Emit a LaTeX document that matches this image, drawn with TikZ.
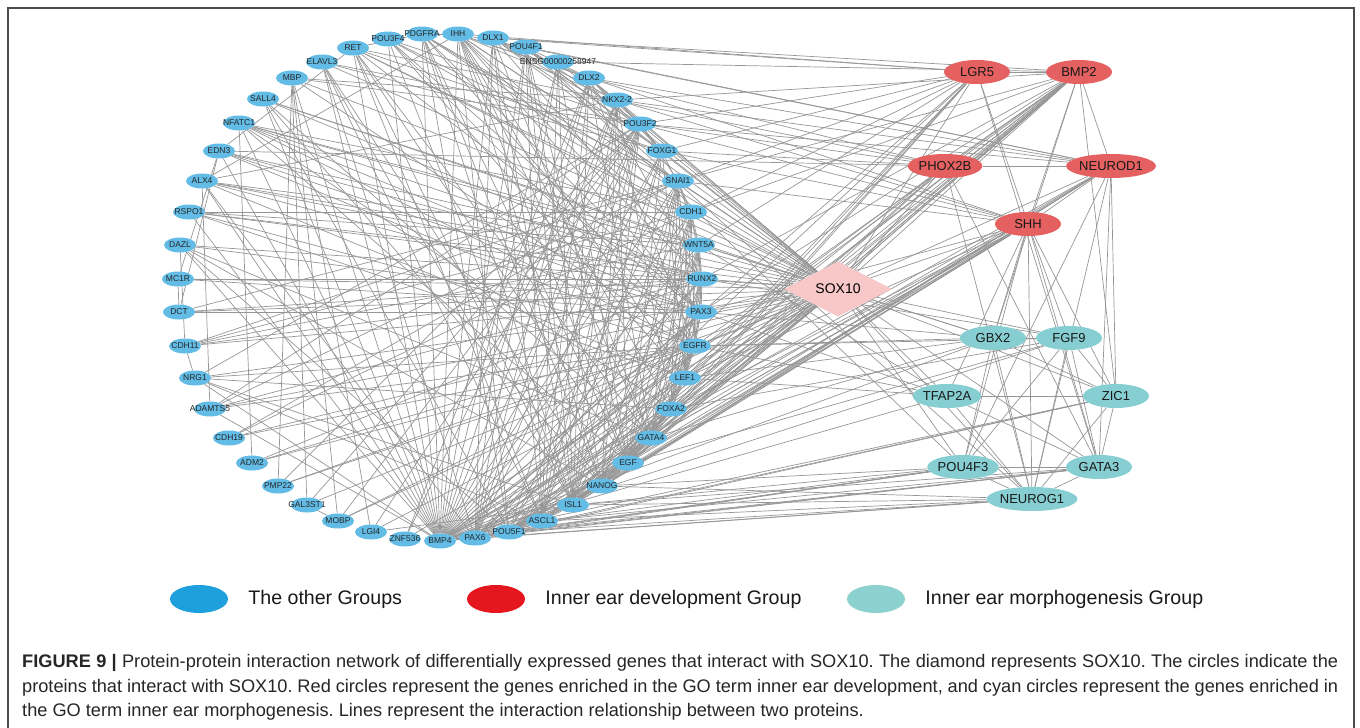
\documentclass[tikz,border=0pt]{standalone}
\usepackage{fontspec}
\setmainfont{Liberation Sans}
\usepackage{xcolor}
\usetikzlibrary{shapes.geometric,positioning}
\definecolor{otherblue}{RGB}{98,188,230}
\definecolor{devred}{RGB}{229,96,96}
\definecolor{morphcyan}{RGB}{134,206,210}
\definecolor{soxpink}{RGB}{248,200,200}
\definecolor{edgegray}{RGB}{150,150,150}
\definecolor{legblue}{RGB}{30,160,220}
\definecolor{legred}{RGB}{230,22,30}
\definecolor{legcyan}{RGB}{140,208,208}
\pgfdeclarelayer{edges}
\pgfsetlayers{edges,main}
\frenchspacing
\tikzset{
  othernode/.style={
    ellipse,
    fill=otherblue,
    minimum width=32pt,
    minimum height=15pt,
    inner sep=0pt,
    text=black!85,
    font=\fontsize{8.5}{8.5}\selectfont
  },
  groupnode/.style={
    ellipse,
    minimum width=66pt,
    minimum height=24pt,
    inner sep=0pt,
    text=black!90,
    font=\fontsize{13}{13}\selectfont
  },
  hubnode/.style={
    diamond,
    fill=soxpink,
    minimum width=108pt,
    minimum height=46pt,
    inner sep=0pt,
    font=\fontsize{14}{14}\selectfont
  },
  ppiedge/.style={
    draw=edgegray,
    line width=0.7pt
  },
  legswatch/.style={
    ellipse,
    minimum width=58pt,
    minimum height=28pt,
    inner sep=0pt
  },
  legtext/.style={
    anchor=west,
    inner sep=0pt,
    text=black!90,
    font=\fontsize{19.6}{19.6}\selectfont
  },
  captext/.style={
    anchor=base west,
    inner sep=0pt,
    font=\fontsize{18.2}{18.2}\selectfont,
    text=black!85
  }
}

\begin{document}
\begin{tikzpicture}[x=1pt,y=-1pt]
\useasboundingbox (0,0) rectangle (1360,728);
\draw[line width=1.4pt, black!70] (8,740) -- (8,8) -- (1354,8) -- (1354,740);

% circle of the other genes
\foreach \gname/\px/\py in {IHH/458/34, DLX1/493/38, POU4F1/526/47, DLX2/589/78, NKX2-2/617/100, POU3F2/640/124, FOXG1/662/151, SNAI1/678/181, CDH1/691/212, WNT5A/699/245, RUNX2/702/279, PAX3/701/312, EGFR/695/346, LEF1/685/378, FOXA2/671/409, GATA4/651/438, EGF/628/463, NANOG/602/486, ISL1/573/505, ASCL1/542/521, POU5F1/509/532, PAX6/475/538, BMP4/440/541, ZNF536/405/539, LGI4/371/532, MOBP/338/521, GAL3ST1/307/505, PMP22/278/486, ADM2/252/463, CDH19/229/438, ADAMTS5/210/409, NRG1/195/378, CDH11/185/346, DCT/179/312, MC1R/178/279, DAZL/180/245, RSPO1/189/212, ALX4/202/181, EDN3/219/151, NFATC1/239/123, SALL4/263/99, MBP/292/78, ELAVL3/322/62, RET/353/48, POU3F4/388/39, PDGFRA/422/34}
  \node[othernode] (\gname) at (\px,\py) {\makebox[0pt]{\gname}};
\node[othernode] (ENSG) at (558,62) {\makebox[0pt]{ENSG00000258947}};

% inner ear development group
\foreach \gname/\px/\py in {LGR5/977/72, BMP2/1079/72, PHOX2B/945/166, NEUROD1/1111/166, SHH/1028/224}
  \node[groupnode, fill=devred] (\gname) at (\px,\py) {\gname};

% inner ear morphogenesis group
\foreach \gname/\px/\py in {GBX2/993/338, FGF9/1069/338, TFAP2A/947/396, ZIC1/1116/396, POU4F3/963/467, GATA3/1099/467, NEUROG1/1032/499}
  \node[groupnode, fill=morphcyan] (\gname) at (\px,\py) {\gname};

\node[hubnode] (SOX10) at (838,289) {SOX10};

% interactions
\begin{pgfonlayer}{edges}
\foreach \src/\dsts in {
  SOX10/{IHH,DLX1,POU4F1,ENSG,DLX2,NKX2-2,POU3F2,FOXG1,SNAI1,CDH1,WNT5A,RUNX2,PAX3,EGFR,LEF1,FOXA2,GATA4,EGF,NANOG,ISL1,ASCL1,POU5F1,PAX6,BMP4,ZNF536,LGI4,MOBP,GAL3ST1,PMP22,ADM2,CDH19,ADAMTS5,NRG1,CDH11,DCT,MC1R,DAZL,RSPO1,ALX4,EDN3,NFATC1,SALL4,MBP,ELAVL3,RET,POU3F4,PDGFRA,LGR5,BMP2,PHOX2B,NEUROD1,SHH,GBX2,FGF9,TFAP2A,ZIC1,POU4F3,GATA3,NEUROG1},
  LGR5/{BMP2,SHH,DLX1,IHH,POU3F2,FOXG1,SNAI1,CDH1,WNT5A,LEF1,EGF,ISL1,BMP4,PAX6,NANOG,GATA3},
  BMP2/{SHH,NEUROD1,GBX2,ZIC1,PHOX2B,DLX1,ENSG,NKX2-2,SNAI1,CDH1,RUNX2,PAX3,EGFR,LEF1,FOXA2,GATA4,EGF,NANOG,ISL1,ASCL1,POU5F1,PAX6,BMP4},
  PHOX2B/{NEUROD1,GATA3,NEUROG1,RET,EDN3,DLX2,POU3F2,FOXG1,ASCL1,ISL1,BMP4,PAX6},
  NEUROD1/{SHH,ZIC1,GATA3,NEUROG1,POU4F3,IHH,POU4F1,DLX2,NKX2-2,POU3F2,ISL1,ASCL1,POU5F1,PAX6,NANOG,BMP4},
  SHH/{GBX2,FGF9,TFAP2A,ZIC1,GATA3,NEUROG1,POU4F3,FOXG1,POU3F2,NKX2-2,SNAI1,FOXA2,GATA4,EGF,NANOG,ISL1,ASCL1,POU5F1,PAX6,BMP4,PAX3,IHH,LEF1},
  GBX2/{FGF9,ZIC1,NEUROG1,POU4F3,EGFR,PAX3,LEF1,WNT5A,BMP4,GATA4},
  FGF9/{ZIC1,GATA3,POU4F3,NEUROG1,EGFR,FOXA2,EGF,BMP4,RUNX2},
  TFAP2A/{ZIC1,NEUROG1,GATA3,PAX3,LEF1,EGFR,BMP4,WNT5A},
  ZIC1/{GATA3,NEUROG1,POU5F1,PAX6,BMP4},
  POU4F3/{NEUROG1,GATA3,ISL1,POU5F1,ASCL1,PAX6,BMP4,NANOG,POU4F1},
  GATA3/{NEUROG1,ISL1,POU5F1,ASCL1,PAX6,BMP4},
  NEUROG1/{POU5F1,ASCL1,ISL1,NANOG,PAX6,BMP4,POU4F1},
  BMP4/{IHH,DLX1,POU4F1,ENSG,DLX2,NKX2-2,POU3F2,FOXG1,SNAI1,CDH1,WNT5A,RUNX2,PAX3,EGFR,LEF1,FOXA2,GATA4,EGF,NANOG,ISL1,ASCL1,PAX6,POU5F1,RET,ELAVL3,MBP,SALL4,NFATC1,EDN3,ALX4,RSPO1,DAZL,PDGFRA,POU3F4,ADAMTS5,NRG1},
  IHH/{PAX3,RUNX2,FOXA2,GATA4,SNAI1,WNT5A,LEF1,NKX2-2,POU5F1,NANOG,EGF,ALX4,PDGFRA,DLX2},
  PDGFRA/{EGFR,EGF,PAX3,SNAI1,POU5F1,NANOG,RET,CDH1,ISL1},
  POU3F4/{PAX3,EGFR,SNAI1,POU3F2,ISL1,LEF1},
  DLX1/{DLX2,ASCL1,POU3F2,FOXG1,PAX6,RUNX2,ISL1,GATA4,NKX2-2},
  POU4F1/{ISL1,ASCL1,PAX6,POU3F2,NANOG,FOXG1,DLX2,EGF},
  ENSG/{PAX6,ASCL1,EGF,ISL1},
  DLX2/{ASCL1,FOXG1,PAX6,ISL1,NKX2-2,RUNX2,POU3F2,GATA4,EGFR},
  NKX2-2/{PAX6,ISL1,FOXA2,ASCL1,POU3F2,FOXG1,NANOG,EGF},
  POU3F2/{ASCL1,PAX6,FOXG1,ISL1,POU5F1,NANOG,SNAI1},
  FOXG1/{PAX6,ASCL1,ISL1,EGF,LEF1,CDH1},
  SNAI1/{CDH1,EGFR,WNT5A,LEF1,EGF,FOXA2,POU5F1,NANOG,ISL1,GATA4},
  CDH1/{WNT5A,EGFR,LEF1,EGF,FOXA2,GATA4,NANOG,POU5F1,RUNX2},
  WNT5A/{LEF1,RUNX2,EGFR,EGF,PAX3,FOXA2,GATA4,ISL1},
  RUNX2/{LEF1,EGFR,EGF,PAX6,GATA4,FOXA2,PAX3},
  PAX3/{PAX6,EGFR,ISL1,LEF1,POU5F1},
  EGFR/{EGF,LEF1,FOXA2,NANOG,POU5F1,ISL1,GATA4},
  LEF1/{EGF,FOXA2,NANOG,POU5F1,GATA4},
  FOXA2/{GATA4,NANOG,POU5F1,ISL1,EGF},
  GATA4/{NANOG,POU5F1,ISL1,EGF,ASCL1},
  EGF/{NANOG,POU5F1,ISL1},
  NANOG/{POU5F1,PAX6,ISL1},
  ISL1/{ASCL1,PAX6,POU5F1},
  ASCL1/{PAX6,POU5F1},
  POU5F1/{PAX6},
  RET/{EGF,GATA4,PAX3,FOXG1,ISL1,CDH1,EDN3,ASCL1},
  ELAVL3/{ISL1,NANOG,POU3F2,ASCL1,FOXG1,PAX6},
  MBP/{PMP22,MOBP,GAL3ST1,POU3F2,NKX2-2,EGFR,LGI4},
  SALL4/{POU5F1,NANOG,GATA4,WNT5A,RUNX2},
  NFATC1/{EGFR,RUNX2,WNT5A,FOXA2,CDH1,EGF,PAX3},
  EDN3/{PAX3,EGFR,DCT,MC1R,RUNX2},
  ALX4/{RUNX2,PAX3,LEF1,WNT5A,NKX2-2,PAX6},
  RSPO1/{WNT5A,LEF1,CDH1,RUNX2,EGFR},
  DAZL/{NANOG,POU5F1,GATA4,PAX3},
  MC1R/{DCT,PAX3,RUNX2},
  DCT/{PAX3,SNAI1,RUNX2},
  CDH11/{CDH1,RUNX2,WNT5A,SNAI1,DAZL},
  NRG1/{EGFR,ISL1,FOXA2,ASCL1,POU3F2,CDH11},
  ADAMTS5/{RUNX2,EGFR,ALX4,SNAI1,POU3F2},
  CDH19/{CDH1,EGFR,SNAI1},
  ADM2/{EGFR,RUNX2,NFATC1},
  PMP22/{POU3F2,EGFR},
  GAL3ST1/{MOBP,POU3F2},
  MOBP/{POU3F2,EGFR},
  LGI4/{POU3F2,ISL1},
  ZNF536/{NKX2-2,DLX2}}
{
  \foreach \dst in \dsts
    \draw[ppiedge] (\src) -- (\dst);
}
\end{pgfonlayer}

% legend
\node[legswatch, fill=legblue] (legother) at (199,599) {};
\node[legtext, right=20pt of legother] (legothertxt) {The other Groups};
\node[legswatch, fill=legred] (legdev) at (496,599) {};
\node[legtext, right=20pt of legdev] (legdevtxt) {Inner ear development Group};
\node[legswatch, fill=legcyan] (legmorph) at (876,599) {};
\node[legtext, right=20pt of legmorph] (legmorphtxt) {Inner ear morphogenesis Group};

% caption
\node[captext] (capone) at (22,667) {\makebox[1316pt][s]{\textbf{FIGURE 9 |} Protein-protein interaction network of differentially expressed genes that interact with SOX10. The diamond represents SOX10. The circles indicate the}};
\node[captext] (captwo) at (22,692) {\makebox[1316pt][s]{proteins that interact with SOX10. Red circles represent the genes enriched in the GO term inner ear development, and cyan circles represent the genes enriched in}};
\node[captext] (capthree) at (22,716) {the GO term inner ear morphogenesis. Lines represent the interaction relationship between two proteins.};
\end{tikzpicture}
\end{document}
